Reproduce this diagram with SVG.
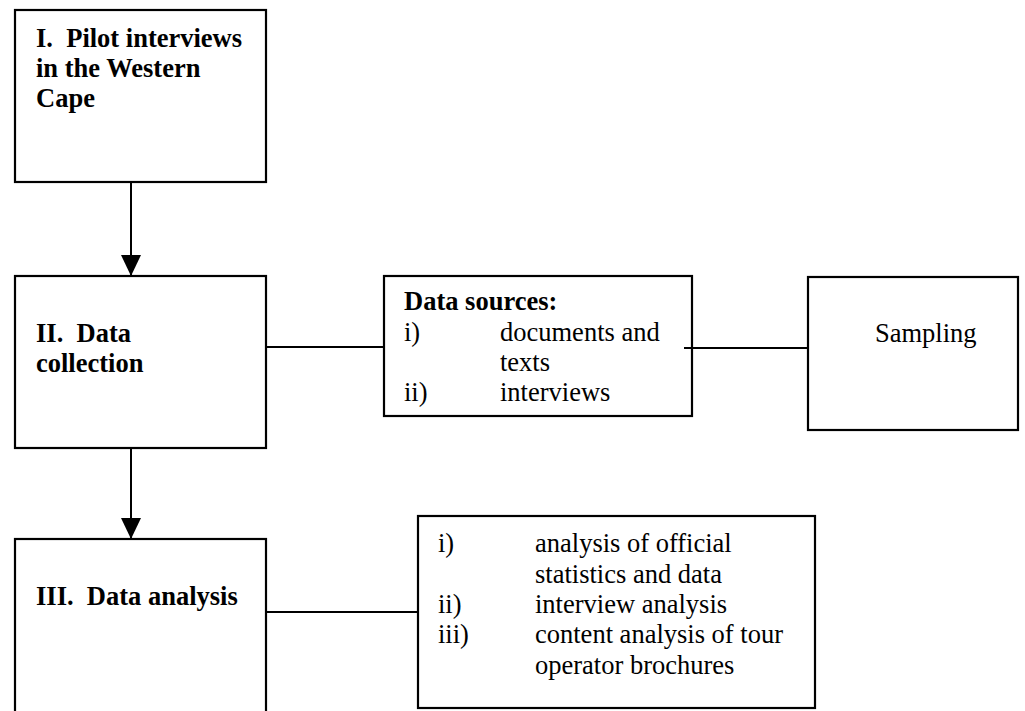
<svg xmlns="http://www.w3.org/2000/svg" width="1025" height="711" viewBox="0 0 1025 711">
<style>
.box{fill:none;stroke:#000;stroke-width:2.2}
.ln{stroke:#000;stroke-width:2;fill:none}
text{font-family:"Liberation Serif","Times New Roman",serif;font-size:26.5px;fill:#000;white-space:pre}
.b{font-weight:bold}
</style>
<defs>
<marker id="ah" markerUnits="userSpaceOnUse" markerWidth="22" markerHeight="20" refX="21" refY="10" orient="auto">
<path d="M0,0 L21,10 L0,20 Z" fill="#000"/>
</marker>
</defs>
<rect width="1025" height="711" fill="#fff"/>
<g id="connectors">
<line class="ln" x1="131" y1="182" x2="131" y2="276" marker-end="url(#ah)"/>
<line class="ln" x1="131" y1="448" x2="131" y2="539" marker-end="url(#ah)"/>
<line class="ln" x1="266" y1="347" x2="384" y2="347"/>
<line class="ln" x1="684" y1="348" x2="808" y2="348"/>
<line class="ln" x1="266" y1="612" x2="418" y2="612"/>
</g>
<g id="node-pilot">
<rect class="box" x="15" y="10" width="251" height="172"/>
<text class="b" x="36" y="47">I.  Pilot interviews</text>
<text class="b" x="36" y="77">in the Western</text>
<text class="b" x="36" y="107">Cape</text>
</g>
<g id="node-collection">
<rect class="box" x="15" y="276" width="251" height="172"/>
<text class="b" x="36" y="342">II.  Data</text>
<text class="b" x="36" y="372">collection</text>
</g>
<g id="node-analysis">
<rect class="box" x="15" y="539" width="251" height="190"/>
<text class="b" x="36" y="605">III.  Data analysis</text>
</g>
<g id="node-sources">
<rect class="box" x="384" y="276" width="308" height="140"/>
<text class="b" x="404" y="310">Data sources:</text>
<text x="404" y="341">i)</text>
<text x="500" y="341">documents and</text>
<text x="500" y="371">texts</text>
<text x="404" y="401">ii)</text>
<text x="500" y="401">interviews</text>
</g>
<g id="node-sampling">
<rect class="box" x="808" y="277" width="210" height="153"/>
<text x="875" y="342">Sampling</text>
</g>
<g id="node-methods">
<rect class="box" x="418" y="516" width="397" height="192"/>
<text x="438" y="552">i)</text>
<text x="535" y="552">analysis of official</text>
<text x="535" y="582.5">statistics and data</text>
<text x="438" y="613">ii)</text>
<text x="535" y="613">interview analysis</text>
<text x="438" y="643">iii)</text>
<text x="535" y="643">content analysis of tour</text>
<text x="535" y="674">operator brochures</text>
</g>
</svg>
